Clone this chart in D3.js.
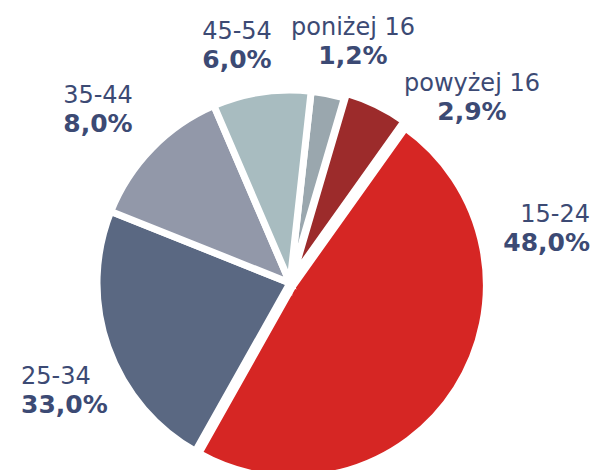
<!DOCTYPE html>
<html>
<head>
<meta charset="utf-8">
<script src="https://cdn.jsdelivr.net/npm/d3@7"></script>
<style>
  body { margin: 0; background: #fff; }
  svg { display: block; }
</style>
</head>
<body>
<div id="chart"></div>
<script>
// categories in clockwise order, starting just right of 12 o'clock
const categories = ["poniżej 16", "powyżej 16", "15-24", "25-34", "35-44", "45-54"];
// printed percentages (label text)
const labelValues = [1.2, 2.9, 48.0, 33.0, 8.0, 6.0];
const sliceShares = [2.8, 5.3, 48.3, 22.9, 12.5, 8.2];
const colors = ["#9aa7ae", "#9c2b2b", "#d62624", "#5a6882", "#9298a9", "#a8bcc0"];

const width = 598, height = 470;
const cx = 290, cy = 283, radius = 193;
const startDeg = 6.3;

// slight pull-out per slice (px)
const explode = { "powyżej 16": 5, "15-24": 4 };

// label layout: anchor, x, baseline of first line
const labelPos = {
    "poniżej 16": { anchor: "middle", x: 353, y: 35 },
    "powyżej 16": { anchor: "middle", x: 472, y: 91 },
    "15-24":      { anchor: "end",    x: 590, y: 222 },
    "25-34":      { anchor: "start",  x: 21,  y: 384 },
    "35-44":      { anchor: "middle", x: 98,  y: 103 },
    "45-54":      { anchor: "middle", x: 237, y: 39 }
};

const data = categories.map((c, i) => ({ name: c, share: sliceShares[i], label: labelValues[i], color: colors[i] }));

const svg = d3.select("#chart")
    .append("svg")
    .attr("width", width)
    .attr("height", height);

const g = svg.append("g")
    .attr("transform", `translate(${cx}, ${cy})`);

const start = startDeg * Math.PI / 180;
const pie = d3.pie()
    .sort(null)
    .value(d => d.share)
    .startAngle(start)
    .endAngle(start + 2 * Math.PI);

const arc = d3.arc()
    .innerRadius(0)
    .outerRadius(radius);

g.selectAll("path.slice")
    .data(pie(data))
    .join("path")
    .attr("class", "slice")
    .attr("transform", d => {
        let off = explode[d.data.name] || 0;
        let mid = (d.startAngle + d.endAngle) / 2;
        return `translate(${off * Math.sin(mid)}, ${-off * Math.cos(mid)})`;
    })
    .attr("d", arc)
    .attr("fill", d => d.data.color)
    .attr("stroke", "#fff")
    .attr("stroke-width", 7)
    .attr("stroke-linejoin", "miter");

const fmt = v => v.toFixed(1).replace(".", ",") + "%";

const labels = svg.append("g")
    .attr("font-family", "'DejaVu Sans', Verdana, sans-serif")
    .attr("fill", "#3c4a74");

data.forEach(d => {
    let p = labelPos[d.name];
    let t = labels.append("text")
        .attr("text-anchor", p.anchor);
    t.append("tspan")
        .attr("x", p.x)
        .attr("y", p.y)
        .attr("font-size", 24)
        .text(d.name);
    t.append("tspan")
        .attr("x", p.x)
        .attr("y", p.y + 29)
        .attr("font-size", 25)
        .attr("font-weight", "bold")
        .text(fmt(d.label));
});
</script>
</body>
</html>
